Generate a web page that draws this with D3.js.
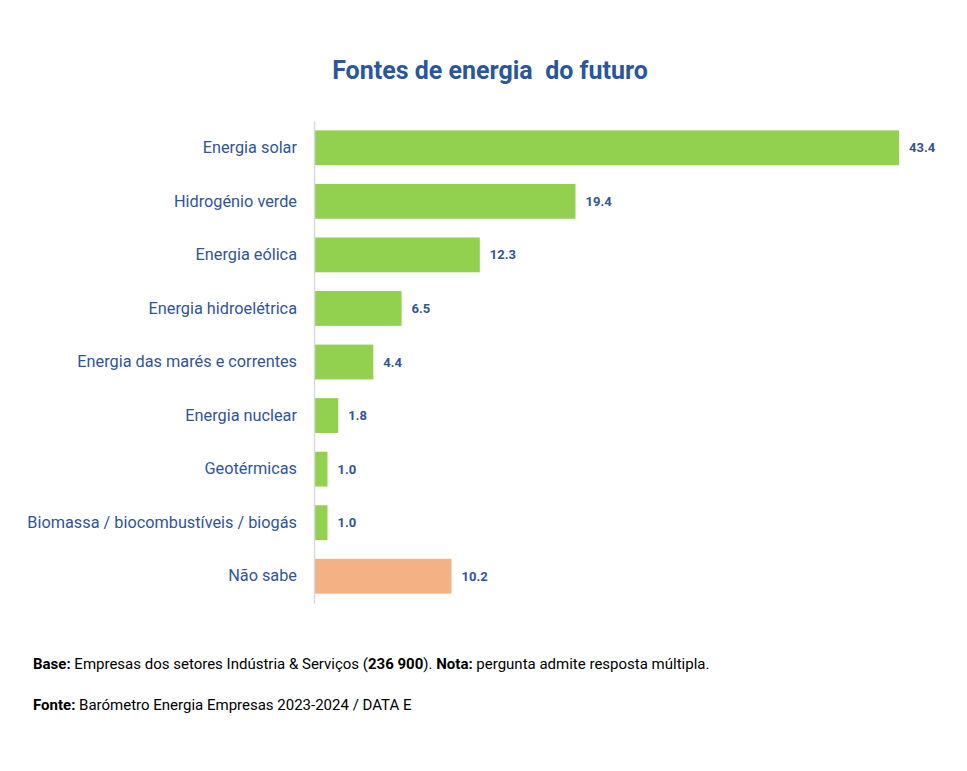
<!DOCTYPE html>
<html>
<head>
<meta charset="utf-8">
<script src="https://cdn.jsdelivr.net/npm/d3@7"></script>
<style>
  body { margin: 0; background: #fff; }
  svg { display: block; font-family: Roboto, "Noto Sans", sans-serif; }
</style>
</head>
<body>
<svg id="chart" width="967" height="771"></svg>
<script>
const categories = [
  "Energia solar",
  "Hidrogénio verde",
  "Energia eólica",
  "Energia hidroelétrica",
  "Energia das marés e correntes",
  "Energia nuclear",
  "Geotérmicas",
  "Biomassa / biocombustíveis / biogás",
  "Não sabe"
];
const values = [43.4, 19.4, 12.3, 6.5, 4.4, 1.8, 1.0, 1.0, 10.2];
const highlight = ["Não sabe"];

const svg = d3.select("#chart");
const W = 967, H = 771;
svg.append("rect").attr("width", W).attr("height", H).attr("fill", "#fff");

const x0 = 314;
const x = d3.scaleLinear().domain([0, 43.4]).range([x0, 899]);
const y = d3.scaleBand().domain(categories).range([121, 603]).paddingInner(0.35).paddingOuter(0.175);

const data = categories.map((c, i) => ({ c, v: values[i] }));

// title
svg.append("text")
  .attr("x", 490).attr("y", 79)
  .attr("text-anchor", "middle")
  .attr("fill", "#2B579A")
  .attr("font-size", 25)
  .attr("font-weight", "bold")
  .attr("xml:space", "preserve")
  .text("Fontes de energia  do futuro");

// bars
svg.append("g").selectAll("rect").data(data).join("rect")
  .attr("x", x(0))
  .attr("y", d => y(d.c))
  .attr("width", d => x(d.v) - x(0))
  .attr("height", y.bandwidth())
  .attr("fill", d => highlight.includes(d.c) ? "#F4B183" : "#92D050");

// axis
const axis = d3.axisLeft(y).tickSize(0).tickPadding(17);
const gA = svg.append("g").attr("transform", `translate(${x0},0)`).call(axis);
gA.select(".domain").attr("stroke", "#D9D9D9").attr("stroke-width", 1.5);
gA.selectAll(".tick text")
  .attr("fill", "#2F5597")
  .attr("font-size", 16.3)
  .attr("font-family", "Roboto, sans-serif");

// value labels
svg.append("g").selectAll("text").data(data).join("text")
  .attr("x", d => x(d.v) + 10)
  .attr("y", d => y(d.c) + y.bandwidth() / 2)
  .attr("dy", "0.35em")
  .attr("fill", "#2F5597")
  .attr("font-size", 13)
  .attr("font-weight", "bold")
  .text(d => d.v.toFixed(1));

// footer
const f1 = svg.append("text").attr("x", 33).attr("y", 669).attr("font-size", 15).attr("fill", "#000");
f1.append("tspan").attr("font-weight", "bold").text("Base:");
f1.append("tspan").text(" Empresas dos setores Indústria & Serviços (");
f1.append("tspan").attr("font-weight", "bold").text("236 900");
f1.append("tspan").text("). ");
f1.append("tspan").attr("font-weight", "bold").text("Nota:");
f1.append("tspan").text(" pergunta admite resposta múltipla.");

const f2 = svg.append("text").attr("x", 33).attr("y", 710).attr("font-size", 15).attr("fill", "#000");
f2.append("tspan").attr("font-weight", "bold").text("Fonte:");
f2.append("tspan").text(" Barómetro Energia Empresas 2023-2024 / DATA E");
</script>
</body>
</html>
